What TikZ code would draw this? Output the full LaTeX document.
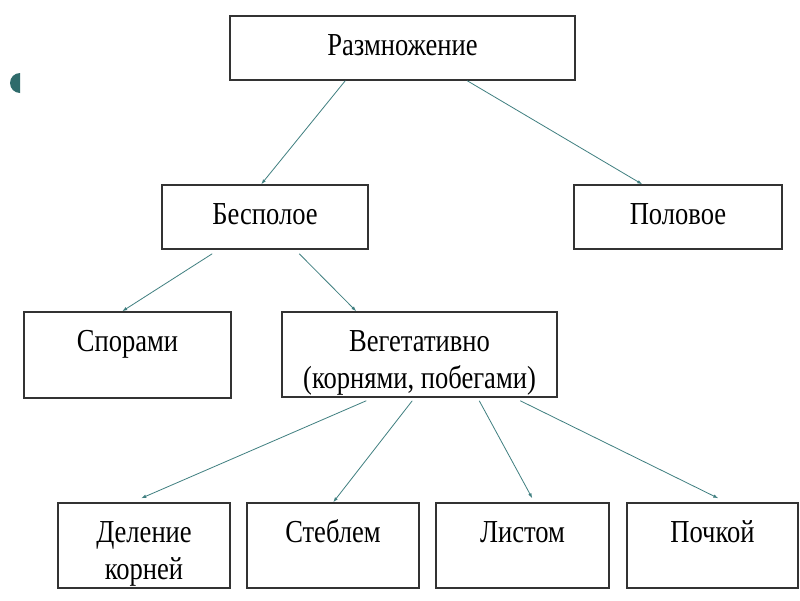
\documentclass[tikz,border=0pt]{standalone}
\usepackage{fontspec}
\setmainfont{Liberation Serif}[FakeStretch=0.83]
\usetikzlibrary{arrows.meta}
\definecolor{linkc}{HTML}{3F7F80}
\definecolor{boxc}{HTML}{333333}
\definecolor{bulc}{HTML}{2F6B6B}
\newcommand\mybx[3]{\parbox[c][#2][t]{#1}{\centering\rule{0pt}{39pt}#3}}
\begin{document}
\begin{tikzpicture}[x=1pt,y=-1pt,
  bx/.style={draw=boxc,line width=1.5pt,inner sep=0pt,fill=white,font=\fontsize{32}{37}\selectfont},
  link/.style={draw=linkc,line width=0.8pt,-{Latex[length=5pt,width=3.5pt]}}]
\useasboundingbox[fill=white] (0,0) rectangle (800,600);
\fill[bulc] (20,93) arc[start angle=90,end angle=270,radius=10] -- cycle;
% boxes
\node[bx] (razm)  at (402.5,48)  {\mybx{345pt}{64pt}{Размножение}};
\node[bx] (besp)  at (265,217)   {\mybx{206pt}{64pt}{Бесполое}};
\node[bx] (polov) at (678,217)   {\mybx{208pt}{64pt}{Половое}};
\node[bx] (spor)  at (127.5,355) {\mybx{207pt}{86pt}{Спорами}};
\node[bx] (veg)   at (419.5,354.5) {\mybx{275pt}{85pt}{Вегетативно\\(корнями, побегами)}};
\node[bx] (delen) at (144,545.5) {\mybx{172pt}{85pt}{Деление\\корней}};
\node[bx] (stebl) at (333,545.5) {\mybx{172pt}{85pt}{Стеблем}};
\node[bx] (list)  at (522.5,545.5) {\mybx{173pt}{85pt}{Листом}};
\node[bx] (pochk) at (712.5,545.5) {\mybx{171pt}{85pt}{Почкой}};
% connectors
\draw[link] ([xshift=116pt]razm.south west) -- ([xshift=100pt]besp.north west);
\draw[link] ([xshift=238pt]razm.south west) -- ([xshift=69pt]polov.north west);
\draw[link] ([xshift=51pt,yshift=-4pt]besp.south west) -- ([xshift=99pt]spor.north west);
\draw[link] ([xshift=138pt,yshift=-4pt]besp.south west) -- ([xshift=75pt]veg.north west);
\draw[link] ([xshift=85pt,yshift=-3pt]veg.south west) -- ([xshift=84pt,yshift=4pt]delen.north west);
\draw[link] ([xshift=131pt,yshift=-3pt]veg.south west) -- ([xshift=87pt]stebl.north west);
\draw[link] ([xshift=198pt,yshift=-3pt]veg.south west) -- ([xshift=97pt,yshift=4pt]list.north west);
\draw[link] ([xshift=239pt,yshift=-3pt]veg.south west) -- ([xshift=92pt,yshift=4pt]pochk.north west);
\end{tikzpicture}
\end{document}
